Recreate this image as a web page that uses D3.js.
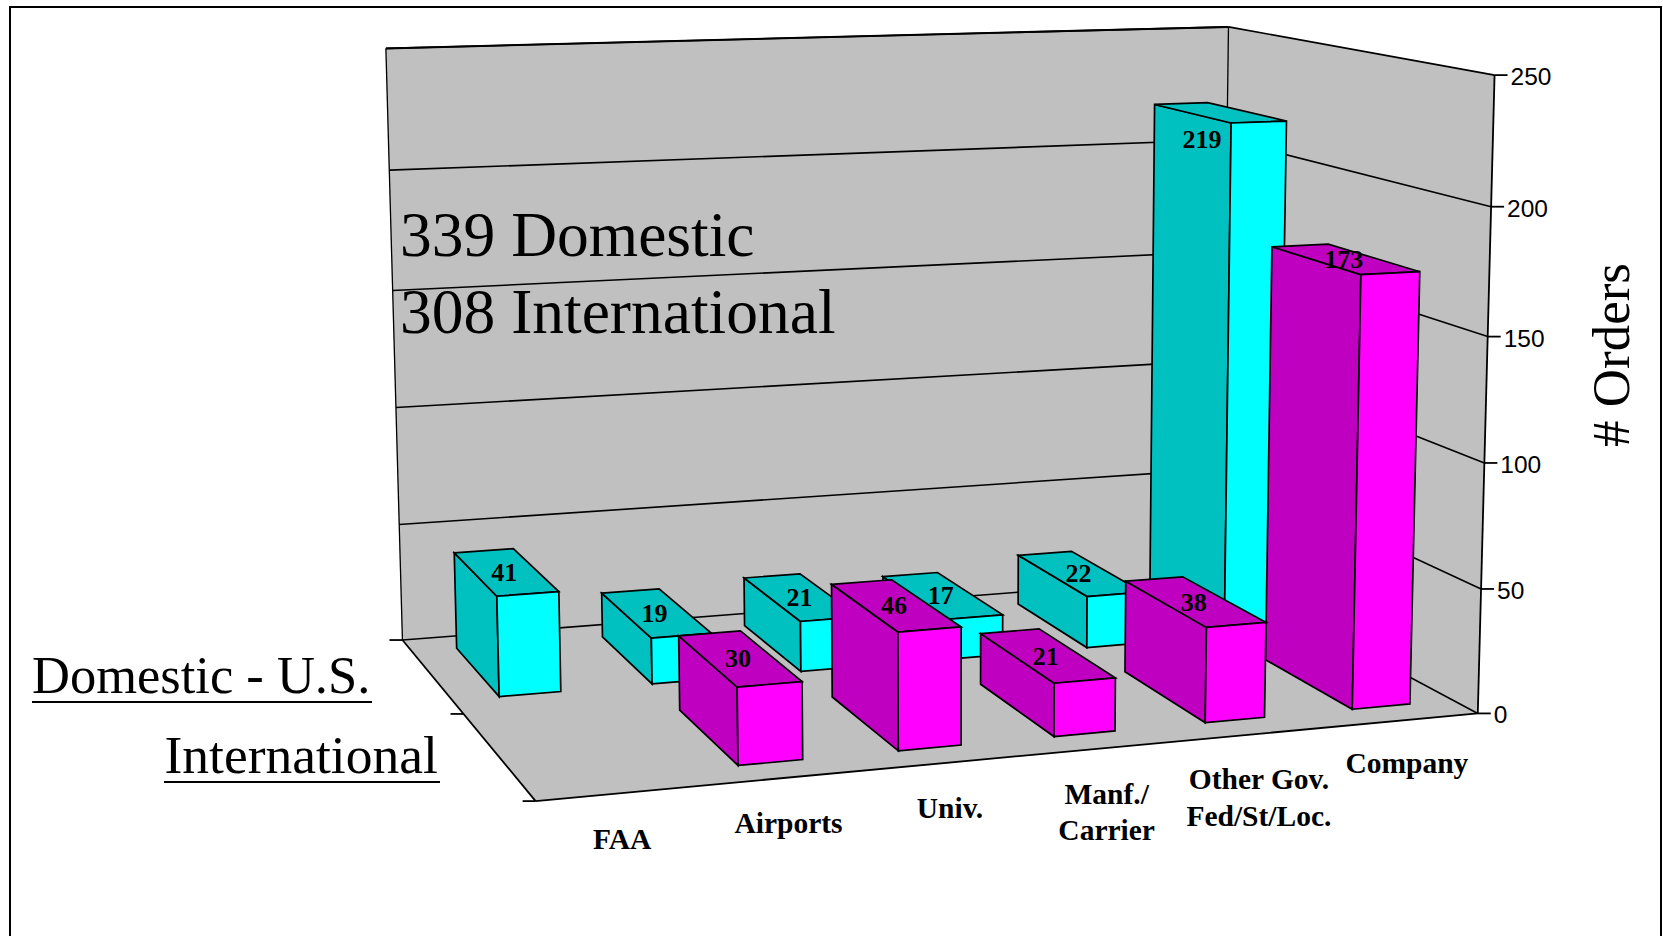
<!DOCTYPE html>
<html><head><meta charset="utf-8">
<script src="https://cdn.jsdelivr.net/npm/d3@7"></script>
<style>html,body{margin:0;padding:0;background:#fff;overflow:hidden}svg{display:block}</style>
</head><body><svg id="c" width="1663" height="936"></svg>
<script>
// ---- data ----
const categories = ["FAA","Airports","Univ.","Manf./\nCarrier","Other Gov.\nFed/St/Loc.","Company"];
const seriesNames = ["Domestic - U.S.","International"];
const domestic = [41,19,21,17,22,219];
const international = [null,30,46,21,38,173];
const valueTicks = [0,50,100,150,200,250];

// ---- style ----
const faceColors = {"Domestic - U.S.":["#00FFFF","#00C0C0"],"International":["#FF00FF","#C000C0"]};
const serif = "'Liberation Serif','Times New Roman',serif", sans = "'Liberation Sans',Arial,sans-serif";

// ---- scales: category -> u, value -> v, series -> w (0 = back wall, 1 = front) ----
const uScale = d3.scaleBand().domain(categories).range([0,1]).paddingInner(0.6).paddingOuter(0.3);
const vScale = d3.scaleLinear().domain(valueTicks).range([0,.2,.4,.598,.799,1]);
const wScale = d3.scaleBand().domain(seriesNames).range([0,1]).paddingInner(0.34).paddingOuter(0.17);

// ---- perspective camera fitted to the chart-box corners ----
const boxCorners = [
 [0,0,0,402,639],[1,0,0,1222,577],[0,1,0,386,48.7],[1,1,0,1228,27],
 [1,0,1,1477,713],[1,1,1,1495,74.7],[0,0,1,536,802]];
function fitCamera(pts){
  const A=[],b=[];
  pts.forEach(([u,v,w,x,y])=>{x/=1000;y/=1000;
    A.push([u,v,w,1,0,0,0,0,-x*u,-x*v,-x*w]);b.push(x);
    A.push([0,0,0,0,u,v,w,1,-y*u,-y*v,-y*w]);b.push(y);});
  const n=11,M=d3.range(n).map(i=>d3.range(n+1).map(j=>
    d3.sum(A,(r,k)=>r[i]*(j<n?r[j]:b[k]))));
  for(let i=0;i<n;i++){
    let p=i;for(let r=i+1;r<n;r++)if(Math.abs(M[r][i])>Math.abs(M[p][i]))p=r;
    [M[i],M[p]]=[M[p],M[i]];
    for(let r=0;r<n;r++)if(r!==i){const f=M[r][i]/M[i][i];for(let c=i;c<=n;c++)M[r][c]-=f*M[i][c];}
  }
  return M.map((r,i)=>r[n]/r[i]);
}
const P=fitCamera(boxCorners);
function project(u,v,w){
  const d=P[8]*u+P[9]*v+P[10]*w+1;
  return [1000*(P[0]*u+P[1]*v+P[2]*w+P[3])/d,1000*(P[4]*u+P[5]*v+P[6]*w+P[7])/d];
}
const poly=pts=>"M"+pts.map(p=>p.join(",")).join("L")+"Z";

const svg=d3.select("#c");
// frame
svg.append("rect").attr("x",10).attr("y",7).attr("width",1651).attr("height",960)
  .attr("fill","#fff").attr("stroke","#000").attr("stroke-width",2);

// walls and floor
const wall="#C0C0C0";
const walls=[
 [[0,0,0],[1,0,0],[1,1,0],[0,1,0]],
 [[1,0,0],[1,0,1],[1,1,1],[1,1,0]],
 [[0,0,0],[0,0,1],[1,0,1],[1,0,0]]];
svg.selectAll("path.wall").data(walls).join("path").attr("class","wall")
  .attr("d",d=>poly(d.map(c=>project(...c)))).attr("fill",wall).attr("stroke",wall).attr("stroke-width",.5);

const line=(a,b,sw=1.6)=>svg.append("line").attr("x1",a[0]).attr("y1",a[1]).attr("x2",b[0]).attr("y2",b[1])
  .attr("stroke","#000").attr("stroke-width",sw);

// gridlines
valueTicks.forEach(t=>{const v=vScale(t);
  line(project(0,v,0),project(1,v,0));
  line(project(1,v,0),project(1,v,1));
});
// box edges
line(project(0,0,0),project(0,1,0),1.3);
line(project(1,0,0),project(1,1,0),1.3);
line(project(1,0,1),project(1,1,1),1.8);
line(project(0,1,0),project(1,1,0),2);
line(project(0,0,0),project(0,0,1),1.8);
line(project(0,0,1),project(1,0,1),1.8);

// value axis ticks + labels
valueTicks.forEach(t=>{const p=project(1,vScale(t),1);
  line(p,[p[0]+13,p[1]],1.8);
  svg.append("text").attr("x",p[0]+16).attr("y",p[1]+10).text(t)
    .attr("font-family",sans).attr("font-size",24.5).attr("fill","#000");
});
// depth axis ticks
[0,.5,1].forEach(w=>{const p=project(0,0,w);line(p,[p[0]-13,p[1]],1.8);});

// bars, painted back row first, right to left
const rows=[[seriesNames[0],domestic],[seriesNames[1],international]];
const labelNudge={"Domestic - U.S.|Company":[-18,27]};
const bars=[];
rows.forEach(([s,vals])=>{
  categories.map((c,i)=>({c,s,value:vals[i]})).reverse().forEach(d=>{if(d.value!=null)bars.push(d);});
});
const g=svg.append("g"), lg=svg.append("g");
bars.forEach(d=>{
  const u0=uScale(d.c),u1=u0+uScale.bandwidth(),w0=wScale(d.s),w1=w0+wScale.bandwidth(),v=vScale(d.value);
  const left=[[u0,0,w0],[u0,0,w1],[u0,v,w1],[u0,v,w0]];
  const top=[[u0,v,w0],[u1,v,w0],[u1,v,w1],[u0,v,w1]];
  const front=[[u0,0,w1],[u1,0,w1],[u1,v,w1],[u0,v,w1]];
  [[left,1],[top,1],[front,0]].forEach(([f,k])=>{
    g.append("path").attr("d",poly(f.map(c=>project(...c))))
     .attr("fill",faceColors[d.s][k]).attr("stroke","#000").attr("stroke-width",1.7).attr("stroke-linejoin","miter");
  });
  const c=top.map(q=>project(...q));
  const nudge=labelNudge[d.s+"|"+d.c]||[-1.5,0];
  lg.append("text").attr("x",d3.mean(c,q=>q[0])+nudge[0]).attr("y",d3.mean(c,q=>q[1])+nudge[1]).attr("dy","0.33em")
    .attr("text-anchor","middle").attr("font-family",serif).attr("font-weight","bold").attr("font-size",26).text(d.value);
});

// category labels
categories.forEach(c=>{
  const p=project(uScale(c)+uScale.bandwidth()/2,0,1);
  c.split("\n").forEach((t,i)=>svg.append("text").attr("x",p[0]+1.5).attr("y",p[1]+(c==="Company"?53:55.5)+i*36.5)
    .attr("text-anchor","middle").attr("font-family",serif).attr("font-weight","bold").attr("font-size",29.5).text(t));
});

// annotations
const txt=(x,y,t,size,anchor="start")=>svg.append("text").attr("x",x).attr("y",y).text(t)
  .attr("font-family",serif).attr("font-size",size).attr("text-anchor",anchor).attr("fill","#000");
txt(400,255.7,"339 Domestic",63.5);
txt(400,333,"308 International",63.5);
txt(32,693,seriesNames[0],52.5);
txt(164.5,773,seriesNames[1],53.5);
line([32,702],[372,702],2.2);
line([164,782],[440,782],2.2);
txt(0,0,"# Orders",53).attr("transform","translate(1629,447) rotate(-90)");
</script></body></html>
